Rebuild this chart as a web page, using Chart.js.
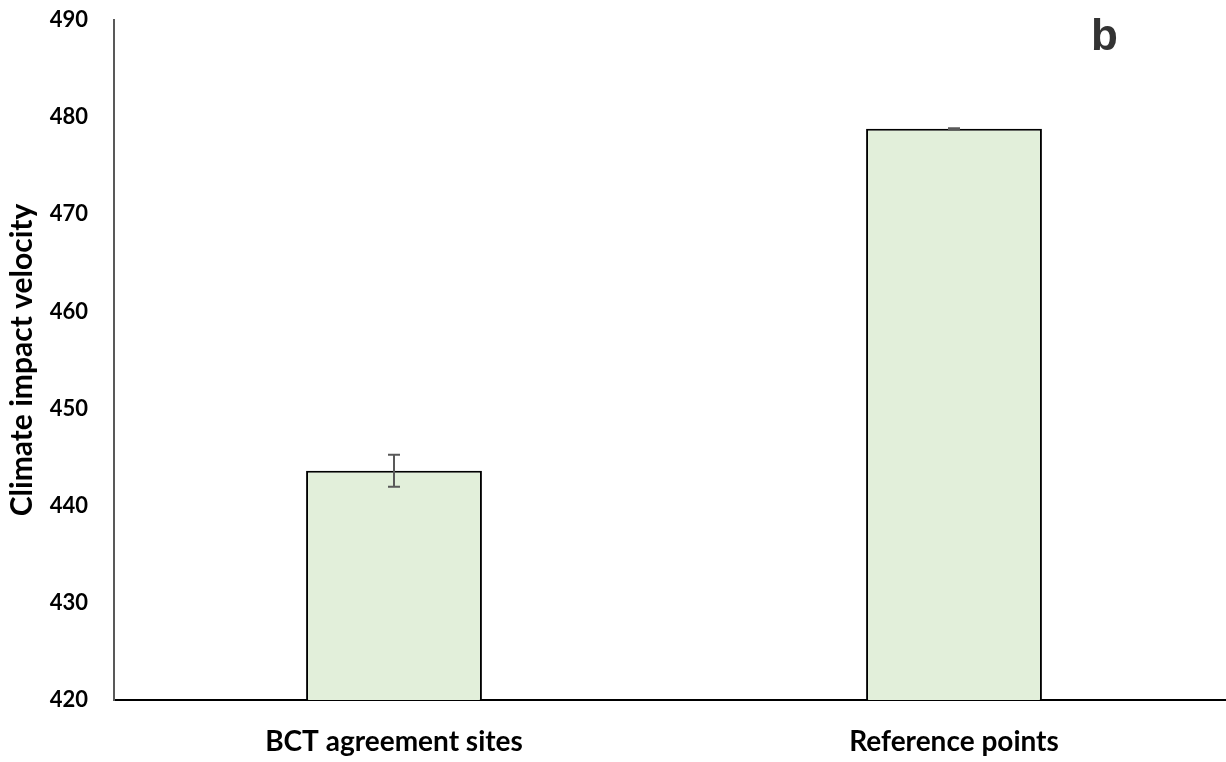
<!DOCTYPE html>
<html>
<head>
<meta charset="utf-8">
<script src="https://cdn.jsdelivr.net/npm/chart.js@4"></script>
<style>
  html, body { margin: 0; padding: 0; background: #ffffff; overflow: hidden; }
  #wrap { width: 1240px; height: 762px; }
</style>
</head>
<body>
<div id="wrap"><canvas id="chart" width="1240" height="762"></canvas></div>
<script>
// Mean climate impact velocity per group, with error half-widths
const categories = ['BCT agreement sites', 'Reference points'];
const meanVelocity = [443.6, 478.8];
const errorMargin = [1.65, 0.05];
const yTicks = [420, 430, 440, 450, 460, 470, 480, 490];
const panelLetter = 'b';

const FONT = 'Lato, "Liberation Sans", sans-serif';

// Vertical error bars drawn through the chart's own scales
const errorBarPlugin = {
  id: 'errorBars',
  afterDatasetsDraw(chart) {
    const ctx = chart.ctx;
    const meta = chart.getDatasetMeta(0);
    const y = chart.scales.y;
    ctx.save();
    ctx.strokeStyle = '#595959';
    ctx.lineWidth = 2;
    meta.data.forEach((bar, i) => {
      const x = bar.x;
      const yHi = y.getPixelForValue(meanVelocity[i] + errorMargin[i]);
      const yLo = y.getPixelForValue(meanVelocity[i] - errorMargin[i]);
      const cap = 6;
      ctx.beginPath();
      ctx.moveTo(x, yHi); ctx.lineTo(x, yLo);
      ctx.moveTo(x - cap, yHi); ctx.lineTo(x + cap, yHi);
      ctx.moveTo(x - cap, yLo); ctx.lineTo(x + cap, yLo);
      ctx.stroke();
    });
    ctx.restore();
  }
};

// Panel letter in the upper right corner
const panelLetterPlugin = {
  id: 'panelLetter',
  afterDraw(chart) {
    const ctx = chart.ctx;
    ctx.save();
    ctx.fillStyle = '#333333';
    ctx.font = 'bold 44px "Liberation Sans", Arial, sans-serif';
    ctx.textAlign = 'left';
    ctx.textBaseline = 'alphabetic';
    ctx.fillText(panelLetter, 1091, 50);
    ctx.restore();
  }
};

new Chart(document.getElementById('chart'), {
  type: 'bar',
  data: {
    labels: categories,
    datasets: [{
      data: meanVelocity,
      backgroundColor: '#E2EFDA',
      borderColor: '#000000',
      borderWidth: 2,
      borderSkipped: false,
      categoryPercentage: 1.0,
      barPercentage: 0.314
    }]
  },
  options: {
    responsive: false,
    animation: false,
    devicePixelRatio: 1,
    layout: { padding: { top: 20, right: 6, left: 0, bottom: 0 } },
    plugins: {
      legend: { display: false },
      tooltip: { enabled: false }
    },
    scales: {
      x: {
        grid: { display: false, drawTicks: false },
        border: { color: '#000000', width: 2 },
        ticks: {
          color: '#000000',
          padding: 25,
          font: { family: FONT, size: 28, weight: 'bold' }
        },
        afterFit(scale) { scale.height = 62; }
      },
      y: {
        min: 420,
        max: 490,
        afterBuildTicks(scale) { scale.ticks = yTicks.map(v => ({ value: v })); },
        grid: { display: false, drawTicks: false },
        border: { color: '#595959', width: 2 },
        ticks: {
          color: '#000000',
          padding: 26,
          font: { family: FONT, size: 22, weight: 'bold' }
        },
        title: {
          display: true,
          text: 'Climate impact velocity',
          color: '#000000',
          padding: { top: 4, bottom: 0 },
          font: { family: FONT, size: 30, weight: 'bold' }
        },
        afterFit(scale) { scale.width = 114; scale.paddingTop = 0; scale.paddingBottom = 0; }
      }
    }
  },
  plugins: [errorBarPlugin, panelLetterPlugin]
});
</script>
</body>
</html>
